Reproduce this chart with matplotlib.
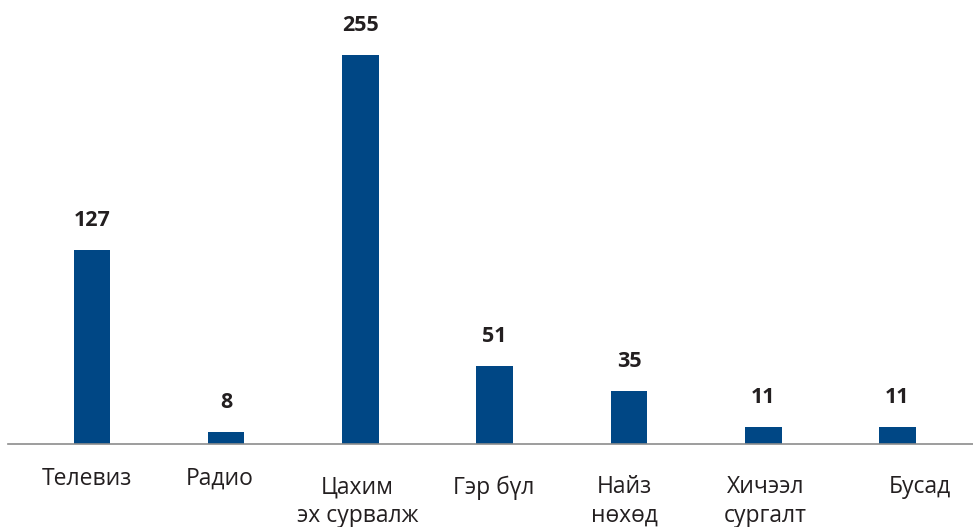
import matplotlib
matplotlib.use("Agg")
import matplotlib.pyplot as plt

categories = ["Телевиз", "Радио", "Цахим\nэх сурвалж", "Гэр бүл",
              "Найз\nнөхөд", "Хичээл\nсургалт", "Бусад"]
values = [127, 8, 255, 51, 35, 11, 11]

BAR_COLOR = "#004785"
TEXT_COLOR = "#231f20"
# category label nudges (pixels): right shift and drop below the axis line
label_dx = [-5, -6, -3, -1, -5, 2, 22]
label_drop = [23, 23, 32, 32, 31, 31, 31]

plt.rcParams["font.family"] = ["Open Sans", "DejaVu Sans"]

fig = plt.figure(figsize=(9.73, 5.27), dpi=100)
ax = fig.add_axes([8 / 973, 83 / 527, 965 / 973, 444 / 527])

x = list(range(len(values)))
ax.bar(x, values, width=0.272, color=BAR_COLOR, zorder=2)

ax.set_xlim(-0.624, 6.562)
ax.set_ylim(0, 291)

for xi, v in zip(x, values):
    ax.annotate(str(v), xy=(xi, v), xytext=(0, 19), textcoords="offset pixels",
                ha="center", va="bottom", fontsize=15.5, fontweight="bold",
                color=TEXT_COLOR)

for xi, name, dx, drop in zip(x, categories, label_dx, label_drop):
    ax.annotate(name, xy=(xi, 0), xycoords=("data", "axes fraction"),
                xytext=(dx, -drop), textcoords="offset pixels",
                ha="center", va="top", fontsize=16.5, color=TEXT_COLOR,
                linespacing=1.25, annotation_clip=False)

for side in ["top", "right", "left"]:
    ax.spines[side].set_visible(False)
ax.spines["bottom"].set_color("#8c8c8c")
ax.spines["bottom"].set_linewidth(1.2)
ax.set_xticks([])
ax.set_yticks([])

fig.savefig("out.png", dpi=100)
